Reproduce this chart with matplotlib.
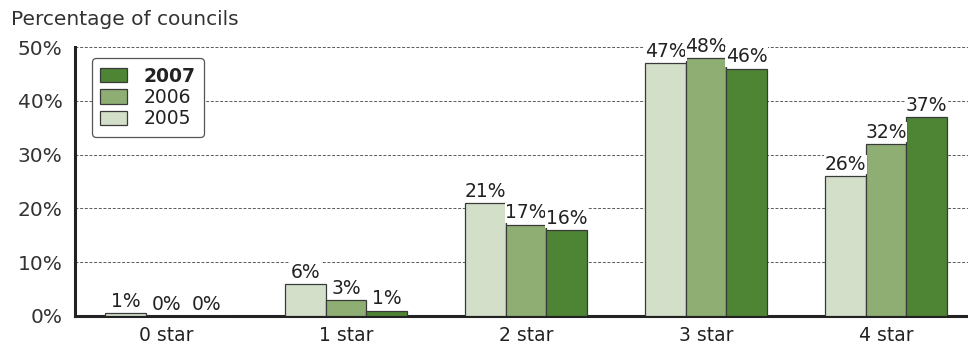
import numpy as np
import matplotlib.pyplot as plt

plt.rcParams['font.family'] = ['DejaVu Sans']

categories = ['0 star', '1 star', '2 star', '3 star', '4 star']
pct_2005 = [1, 6, 21, 47, 26]
pct_2006 = [0, 3, 17, 48, 32]
pct_2007 = [0, 1, 16, 46, 37]
# the 0-star bar for 2005 is drawn a touch lower than its rounded label
bar_2005 = [0.5, 6, 21, 47, 26]

colours = {'2005': '#d3dfc8', '2006': '#8eae74', '2007': '#4d8535'}
edge = '#3a3a3a'

fig = plt.figure(figsize=(9.68, 3.49), dpi=100)
ax = fig.add_axes([0.0775, 0.0946, 0.9225, 0.7707])

x = np.arange(len(categories))
w = 0.225
series = [('2005', bar_2005, pct_2005, -w),
          ('2006', pct_2006, pct_2006, 0),
          ('2007', pct_2007, pct_2007, w)]

handles = {}
for name, heights, labels, off in series:
    bars = ax.bar(x + off, heights, width=w, color=colours[name],
                  edgecolor=edge, linewidth=0.9, zorder=3)
    handles[name] = bars
    for xi, h, lab in zip(x + off, heights, labels):
        ax.text(xi, h + 0.4, f'{lab}%', ha='center', va='bottom',
                fontsize=13.5, color='#222222', zorder=4,
                bbox=dict(facecolor='white', edgecolor='none', pad=0.3))

ax.set_xlim(-0.506, 4.456)
ax.set_ylim(0, 50)
ax.set_yticks(np.arange(0, 51, 10))
ax.set_yticklabels([f'{v}%' for v in range(0, 51, 10)], fontsize=14.5,
                   color='#333333')
ax.set_xticks(x)
ax.set_xticklabels(categories, fontsize=13.5, color='#222222')
ax.tick_params(length=0)
ax.tick_params(axis='x', pad=7)
ax.tick_params(axis='y', pad=9)

for v in range(10, 51, 10):
    ax.axhline(v, color='#5a5a5a', linestyle=(0, (3, 1.8)), linewidth=0.7,
               zorder=1)

for side in ['top', 'right']:
    ax.spines[side].set_visible(False)
ax.spines['left'].set_linewidth(2.2)
ax.spines['bottom'].set_linewidth(2.2)
ax.spines['left'].set_color('#222222')
ax.spines['bottom'].set_color('#222222')

leg = ax.legend([handles['2007'], handles['2006'], handles['2005']],
                ['2007', '2006', '2005'], loc='upper left',
                bbox_to_anchor=(0.019, 0.958), borderaxespad=0,
                fontsize=13.5, frameon=True,
                fancybox=True, edgecolor='#555555', framealpha=1,
                handlelength=1.4, handleheight=0.8, handletextpad=0.9,
                labelspacing=0.12, borderpad=0.45)
leg.get_frame().set_linewidth(0.9)
leg.get_texts()[0].set_fontweight('bold')
for t in leg.get_texts():
    t.set_color('#222222')

fig.text(0.011, 0.945, 'Percentage of councils', fontsize=14.5,
         color='#333333', ha='left', va='center')

fig.savefig('out.png', dpi=100)
